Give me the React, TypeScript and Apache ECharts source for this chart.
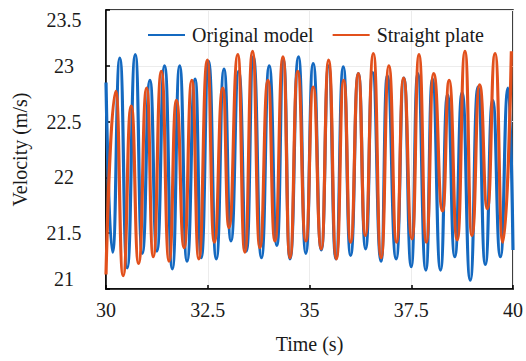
import React, { useEffect, useRef } from "react";
import * as echarts from "echarts";

const xTicks = [30, 32.5, 35, 37.5, 40];
const yTicks = [21, 21.5, 22, 22.5, 23, 23.5];

const originalTime = [
  30.0, 30.16, 30.34, 30.52, 30.72, 30.89, 31.08, 31.25, 31.44, 31.63, 31.81, 31.99,
  32.19, 32.34, 32.52, 32.71, 32.9, 33.07, 33.26, 33.45, 33.62, 33.82, 34.01, 34.2,
  34.36, 34.52, 34.73, 34.91, 35.09, 35.29, 35.47, 35.65, 35.83, 36.01, 36.2, 36.38,
  36.55, 36.76, 36.91, 37.13, 37.32, 37.5, 37.66, 37.86, 38.02, 38.22, 38.39, 38.57,
  38.75, 38.95, 39.14, 39.32, 39.5, 39.69, 39.88, 40.0,
];
const originalVelocity = [
  22.85, 21.33, 23.07, 21.19, 23.1, 21.32, 22.87, 21.34, 23.0, 21.18, 23.0, 21.25,
  22.88, 21.28, 23.04, 21.27, 22.97, 21.43, 22.95, 21.34, 23.08, 21.28, 23.0, 21.39,
  23.05, 21.27, 23.08, 21.32, 23.02, 21.35, 23.0, 21.27, 22.99, 21.3, 22.93, 21.36,
  22.94, 21.25, 22.91, 21.27, 22.89, 21.2, 22.93, 21.17, 22.88, 21.17, 22.74, 21.29,
  22.76, 21.08, 22.81, 21.22, 22.69, 21.29, 22.8, 21.35,
];

const plateTime = [
  30.0, 30.24, 30.42, 30.62, 30.8, 31.0, 31.16, 31.36, 31.55, 31.73, 31.92, 32.11,
  32.28, 32.49, 32.66, 32.87, 33.02, 33.24, 33.41, 33.6, 33.78, 33.98, 34.15, 34.35,
  34.52, 34.71, 34.91, 35.09, 35.29, 35.47, 35.66, 35.84, 36.01, 36.2, 36.37, 36.57,
  36.76, 36.95, 37.14, 37.31, 37.52, 37.69, 37.87, 38.05, 38.27, 38.43, 38.63, 38.82,
  38.99, 39.18, 39.37, 39.56, 39.75, 39.96,
];
const plateVelocity = [
  21.13, 22.77, 21.12, 22.64, 21.23, 22.8, 21.29, 22.95, 21.25, 22.69, 21.37, 22.87,
  21.27, 23.05, 21.42, 22.8, 21.55, 23.1, 21.33, 23.13, 21.37, 22.87, 21.43, 23.08,
  21.28, 22.95, 21.43, 22.81, 21.36, 23.05, 21.27, 22.87, 21.42, 22.93, 21.48, 23.11,
  21.28, 23.0, 21.42, 22.89, 21.45, 23.1, 21.42, 22.93, 21.7, 22.87, 21.44, 23.13,
  21.48, 22.83, 21.72, 23.11, 21.42, 23.13,
];

const FONT = "Liberation Serif, serif";

export default function App() {
  const ref = useRef<HTMLDivElement>(null);
  useEffect(() => {
    if (!ref.current) return;
    const chart = echarts.init(ref.current, undefined, { renderer: "svg" });
    const blue = originalTime.map((t, i) => [t, originalVelocity[i]]);
    const orange = plateTime.map((t, i) => [t, plateVelocity[i]]);
    chart.setOption({
      animation: false,
      backgroundColor: "#fff",
      textStyle: { fontFamily: FONT },
      grid: {
        left: 106,
        right: 5,
        top: 10,
        bottom: 72,
        show: true,
        borderColor: "#000",
        borderWidth: 1.5,
        backgroundColor: "transparent",
      },
      legend: {
        top: 20,
        left: 143,
        itemWidth: 37,
        itemHeight: 2,
        itemGap: 19,
        icon: "rect",
        textStyle: { fontFamily: FONT, fontSize: 20, color: "#1a1a1a", padding: [0, 0, 0, 2] },
        data: ["Original model", "Straight plate"],
      },
      xAxis: {
        type: "value",
        min: xTicks[0],
        max: xTicks[xTicks.length - 1],
        interval: 2.5,
        name: "Time (s)",
        nameLocation: "middle",
        nameGap: 45,
        nameTextStyle: { fontFamily: FONT, fontSize: 20, color: "#1a1a1a" },
        axisLine: { show: true, lineStyle: { color: "#000", width: 1.5 } },
        axisTick: { show: true, inside: true, length: 4, lineStyle: { color: "#000", width: 1.5 } },
        axisLabel: { fontFamily: FONT, fontSize: 20, color: "#1a1a1a", margin: 11 },
        splitLine: { show: true, lineStyle: { color: "#ececec", width: 1 } },
      },
      yAxis: {
        type: "value",
        min: yTicks[0],
        max: yTicks[yTicks.length - 1],
        interval: 0.5,
        name: "Velocity (m/s)",
        nameLocation: "middle",
        nameGap: 76,
        nameTextStyle: { fontFamily: FONT, fontSize: 20, color: "#1a1a1a" },
        axisLine: { show: true, lineStyle: { color: "#000", width: 1.5 } },
        axisTick: { show: true, inside: true, length: 4, lineStyle: { color: "#000", width: 1.5 } },
        axisLabel: {
          fontFamily: FONT,
          fontSize: 20,
          color: "#1a1a1a",
          margin: 42,
          align: "center",
          verticalAlignMinLabel: "bottom",
          verticalAlignMaxLabel: "top",
        },
        splitLine: { show: true, lineStyle: { color: "#ececec", width: 1 } },
      },
      series: [
        {
          name: "Original model",
          type: "line",
          data: blue,
          showSymbol: false,
          symbol: "none",
          smooth: 0.55,
          smoothMonotone: "x",
          lineStyle: { color: "#1469c0", width: 3.2 },
          itemStyle: { color: "#1469c0" },
          z: 2,
        },
        {
          name: "Straight plate",
          type: "line",
          data: orange,
          showSymbol: false,
          symbol: "none",
          smooth: 0.55,
          smoothMonotone: "x",
          lineStyle: { color: "#e2501c", width: 3.2 },
          itemStyle: { color: "#e2501c" },
          z: 3,
        },
      ],
    });
    return () => chart.dispose();
  }, []);
  return <div ref={ref} style={{ width: 526, height: 361, position: "absolute", left: 0, top: 0 }} />;
}
